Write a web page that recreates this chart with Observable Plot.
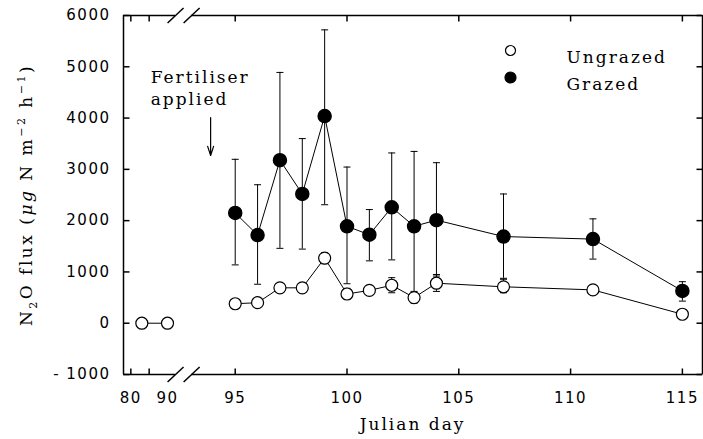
<!DOCTYPE html>
<html><head><meta charset="utf-8">
<script src="https://cdn.jsdelivr.net/npm/d3@7"></script>
<script src="https://cdn.jsdelivr.net/npm/@observablehq/plot@0.6"></script>
<style>
body{margin:0;background:#fff;}
#chart svg{display:block;}
g[font-family="DejaVu Serif"] text{letter-spacing:2px;}
g[font-family="DejaVu Sans"] text{letter-spacing:1.5px;}
</style></head><body><div id="chart"></div>
<script>
// ---- data ----
const ungrazedDay  = [83, 90, 95, 96, 97, 98, 99, 100, 101, 102, 103, 104, 107, 111, 115];
const ungrazedFlux = [0, 0, 380, 400, 690, 690, 1270, 570, 640, 740, 500, 780, 710, 650, 175];
const ungrazedLow  = [0, 0, 380, 400, 690, 690, 1160, 470, 640, 594, 390, 620, 594, 650, 175];
const ungrazedHigh = [0, 0, 380, 400, 690, 690, 1378, 680, 640, 888, 620, 950, 857, 650, 175];

const grazedDay  = [95, 96, 97, 98, 99, 100, 101, 102, 103, 104, 107, 111, 115];
const grazedFlux = [2150, 1720, 3180, 2520, 4040, 1890, 1725, 2260, 1890, 2010, 1690, 1640, 630];
const grazedHigh = [3196, 2700, 4890, 3600, 5720, 3045, 2216, 3320, 3350, 3130, 2520, 2035, 810];
const grazedLow  = [1137, 760, 1460, 1445, 2310, 770, 1216, 1235, 500, 920, 876, 1250, 431];

const yTicks = [-1000, 0, 1000, 2000, 3000, 4000, 5000, 6000];
const yTickLabels = ["- 1000", "0", "1000", "2000", "3000", "4000", "5000", "6000"];
const xTickMarks = [80, 85, 95, 100, 105, 110, 115];
const xLabelDays = [80, 90, 95, 100, 105, 110, 115];
const xTickLabels = ["80", "90", "95", "100", "105", "110", "115"];

const legendLabels = ["Ungrazed", "Grazed"];
const annotationText = ["Fertiliser\napplied"];
const annotationDay = 85.4, annotationFlux = 4615;
const arrowDay = 93.9, arrowFrom = 4010, arrowTo = 3270;

// ---- tables ----
const ungrazed = ungrazedDay.map((d, i) => ({day: d, flux: ungrazedFlux[i], low: ungrazedLow[i], high: ungrazedHigh[i], seg: d < 93 ? "pre" : "post"}));
const grazed = grazedDay.map((d, i) => ({day: d, flux: grazedFlux[i], low: grazedLow[i], high: grazedHigh[i]}));
const ungrazedBars = ungrazed.filter(d => d.high > d.low);

// axis geometry (piecewise scale with break)
const xMin = 78, xMax = 115.9, yMin = -1000, yMax = 6000;
const breakA = 91.05, breakB = 93.05;

// custom symbols
const cap = {draw(c, size) { const w = Math.sqrt(size / Math.PI); c.moveTo(-w, 0); c.lineTo(w, 0); }};
const tickUp = {draw(c) { c.moveTo(0, 0); c.lineTo(0, -6); }};
const tickDown = {draw(c) { c.moveTo(0, 0); c.lineTo(0, 6); }};
const tickRight = {draw(c) { c.moveTo(0, 0); c.lineTo(6, 0); }};
const tickLeft = {draw(c) { c.moveTo(0, 0); c.lineTo(-6, 0); }};
const slash = {draw(c) { c.moveTo(-8, 7.5); c.lineTo(8, -7.5); }};

const serif = "DejaVu Serif";
const sans = "DejaVu Sans";
const axisStyle = {stroke: "black", strokeWidth: 1.5};

const legendMarks = legendLabels.flatMap((lab, i) => [
  Plot.dot([lab], {frameAnchor: "top-left", dx: 387, dy: 35 + i * 27, r: i === 0 ? 5 : 5.5,
    fill: i === 0 ? "white" : "black", stroke: "black", strokeWidth: 1.2}),
  Plot.text([lab], {frameAnchor: "top-left", dx: 443, dy: 35 + i * 27, text: d => d, textAnchor: "start",
    fontFamily: serif, fontSize: 17, fill: "black"})
]);

const chart = Plot.plot({
  width: 703, height: 439,
  marginLeft: 123, marginRight: 1, marginTop: 15, marginBottom: 65,
  style: {background: "white", overflow: "visible"},
  x: {type: "linear", domain: [xMin, 90, 93, xMax], range: [123, 167, 190, 702], axis: null},
  y: {type: "linear", domain: [yMin, yMax], range: [374, 15], axis: null},
  marks: [
    // frame with break
    Plot.ruleX([xMin, xMax], {y1: yMin, y2: yMax, ...axisStyle}),
    Plot.ruleY([yMin, yMax], {x1: xMin, x2: breakA, ...axisStyle}),
    Plot.ruleY([yMin, yMax], {x1: breakB, x2: xMax, ...axisStyle}),
    Plot.dot([breakA, breakB], {x: d => d, y: yMin, symbol: slash, fill: "none", ...axisStyle}),
    Plot.dot([breakA, breakB], {x: d => d, y: yMax, symbol: slash, fill: "none", ...axisStyle}),
    // ticks (inward)
    Plot.dot(xTickMarks, {x: d => d, y: yMin, symbol: tickUp, fill: "none", ...axisStyle}),
    Plot.dot(xTickMarks, {x: d => d, y: yMax, symbol: tickDown, fill: "none", ...axisStyle}),
    Plot.dot(yTicks, {x: xMin, y: d => d, symbol: tickRight, fill: "none", ...axisStyle}),
    Plot.dot(yTicks, {x: xMax, y: d => d, symbol: tickLeft, fill: "none", ...axisStyle}),
    // tick labels
    Plot.text(yTicks, {x: xMin, y: d => d, text: (d, i) => yTickLabels[i], textAnchor: "end", dx: -13,
      fontFamily: sans, fontSize: 15, fill: "black"}),
    Plot.text(xLabelDays, {x: d => d, y: yMin, text: (d, i) => xTickLabels[i], dy: 24,
      fontFamily: sans, fontSize: 15, fill: "black"}),
    // error bars
    Plot.ruleX(grazed, {x: "day", y1: "low", y2: "high", stroke: "black", strokeWidth: 1}),
    Plot.dot(grazed, {x: "day", y: "high", symbol: cap, r: 3.5, fill: "none", stroke: "black", strokeWidth: 1}),
    Plot.dot(grazed, {x: "day", y: "low", symbol: cap, r: 3.5, fill: "none", stroke: "black", strokeWidth: 1}),
    Plot.ruleX(ungrazedBars, {x: "day", y1: "low", y2: "high", stroke: "black", strokeWidth: 1}),
    Plot.dot(ungrazedBars, {x: "day", y: "high", symbol: cap, r: 3.5, fill: "none", stroke: "black", strokeWidth: 1}),
    Plot.dot(ungrazedBars, {x: "day", y: "low", symbol: cap, r: 3.5, fill: "none", stroke: "black", strokeWidth: 1}),
    // lines
    Plot.line(grazed, {x: "day", y: "flux", stroke: "black", strokeWidth: 1}),
    Plot.line(ungrazed, {x: "day", y: "flux", z: "seg", stroke: "black", strokeWidth: 1}),
    // points
    Plot.dot(grazed, {x: "day", y: "flux", r: 6.5, fill: "black", stroke: "black"}),
    Plot.dot(ungrazed, {x: "day", y: "flux", r: 6, fill: "white", stroke: "black", strokeWidth: 1.2}),
    // annotation
    Plot.text(annotationText, {x: annotationDay, y: annotationFlux, text: d => d, textAnchor: "start",
      lineAnchor: "middle", lineHeight: 1.3, fontFamily: serif, fontSize: 17, fill: "black"}),
    Plot.arrow([0], {x1: arrowDay, x2: arrowDay, y1: arrowFrom, y2: arrowTo, stroke: "black",
      strokeWidth: 1.2, headLength: 12, headAngle: 36}),
    // x axis title
    Plot.text(["Julian day"], {frameAnchor: "bottom", dx: 412 - (123 + 702) / 2, dy: 55, text: d => d,
      fontFamily: serif, fontSize: 17, fill: "black"}),
    ...legendMarks
  ]
});

// y-axis title with sub/superscripts
const svg = d3.select(chart);
const t = svg.append("text")
  .attr("transform", "translate(32,195) rotate(-90)")
  .attr("text-anchor", "middle")
  .attr("font-family", serif)
  .attr("font-size", 17)
  .attr("fill", "black")
  .style("letter-spacing", "2.5px");
t.append("tspan").text("N");
t.append("tspan").attr("dy", 5).attr("font-size", 11).text("2");
t.append("tspan").attr("dy", -5).text("O flux (");
t.append("tspan").attr("font-style", "italic").text("\u03bcg");
t.append("tspan").text(" N m");
t.append("tspan").attr("dy", -7).attr("font-size", 11).text("\u22122");
t.append("tspan").attr("dy", 7).text(" h");
t.append("tspan").attr("dy", -7).attr("font-size", 11).text("\u22121");
t.append("tspan").attr("dy", 7).text(")");

document.getElementById("chart").appendChild(chart);
</script></body></html>
